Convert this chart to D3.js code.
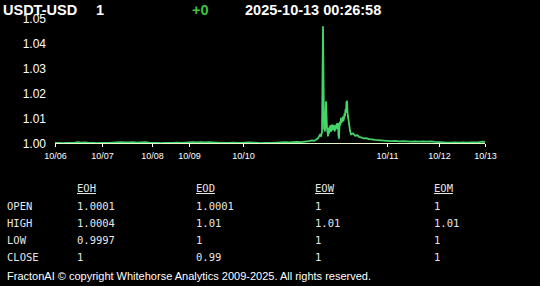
<!DOCTYPE html>
<html>
<head>
<meta charset="utf-8">
<script src="https://cdn.jsdelivr.net/npm/d3@7"></script>
<style>
  body { margin: 0; background: #000; }
  svg { display: block; }
</style>
</head>
<body>
<div id="chart"></div>
<script>
// header
const symbol = "USDT-USD"
const last = "1"
const change = "+0"
const stamp = "2025-10-13 00:26:58"

// price samples: position along the sample axis, and the price there
const samplePos = [
  0, 4, 8, 12, 16, 20, 23, 26, 30, 34, 38, 42, 46, 50, 54, 58, 62, 66, 70, 74,
  78, 82, 86, 90, 94, 98, 102, 106, 110, 114, 118, 122, 126, 130, 134, 138, 142, 146, 150, 154,
  158, 162, 166, 170, 174, 178, 182, 186, 190, 194, 198, 202, 206, 210, 214, 218, 222, 226, 230, 234,
  238, 242, 246, 250, 254, 257, 259, 261, 263, 265, 266, 267, 268, 269, 270, 271, 272,
  273, 273.5, 274, 274.5, 275, 275.5, 276, 276.5, 277, 277.5, 278, 278.5, 279, 279.5, 280, 280.5,
  281, 281.5, 282, 282.5, 283, 283.5, 284, 284.5, 285, 285.5, 286, 286.5, 287, 287.5, 288, 288.5,
  289, 289.5, 290, 290.5, 291, 291.5, 292, 292.5, 293, 293.5, 294, 294.5, 295,
  296, 298, 300, 302, 304, 306, 308, 311, 314, 317, 320, 323, 326, 329, 332, 336, 340, 344, 348, 352,
  356, 360, 364, 368, 372, 376, 380, 384, 388, 392, 396, 400, 404, 408, 412, 416, 420, 424, 428, 430
]
const price = [
  1.0002, 1.0002, 1.0001, 1.0002, 1.0002, 1.0003, 1.0005, 1.0003, 1.0004, 1.0002, 1.0002, 1.0001, 1.0002, 1.0002, 1.0002, 1.0003, 1.0004, 1.0005, 1.0004, 1.0004,
  1.0005, 1.0003, 1.0004, 1.0005, 1.0003, 1.0002, 1.0002, 1.0001, 1.0002, 1.0002, 1.0002, 1.0003, 1.0002, 1.0003, 1.0004, 1.0005, 1.0004, 1.0005, 1.0004, 1.0005,
  1.0004, 1.0003, 1.0002, 1.0002, 1.0002, 1.0003, 1.0002, 1.0002, 1.0003, 1.0004, 1.0003, 1.0002, 1.0001, 1.0002, 1.0002, 1.0002, 1.0003, 1.0004, 1.0005, 1.0004,
  1.0005, 1.0006, 1.0005, 1.0007, 1.0009, 1.0012, 1.0010, 1.0014, 1.0020, 1.0035, 1.0028, 1.0045, 1.0466, 1.0060, 1.0050, 1.0166, 1.0060,
  1.0030, 1.0058, 1.0040, 1.0065, 1.0050, 1.0070, 1.0048, 1.0066, 1.0073, 1.0055, 1.0068, 1.0058, 1.0072, 1.0050, 1.0062, 1.0055,
  1.0072, 1.0065, 1.0078, 1.0060, 1.0079, 1.0030, 1.0020, 1.0070, 1.0085, 1.0075, 1.0100, 1.0085, 1.0095, 1.0088, 1.0105, 1.0092,
  1.0100, 1.0118, 1.0110, 1.0135, 1.0125, 1.0165, 1.0168, 1.0125, 1.0105, 1.0095, 1.0080, 1.0065, 1.0050,
  1.0035, 1.0040, 1.0030, 1.0033, 1.0026, 1.0024, 1.0020, 1.0021, 1.0017, 1.0016, 1.0014, 1.0013, 1.0012, 1.0011, 1.0010, 1.0009, 1.0010, 1.0008, 1.0009, 1.0008,
  1.0007, 1.0008, 1.0007, 1.0008, 1.0007, 1.0008, 1.0006, 1.0005, 1.0004, 1.0003, 1.0003, 1.0004, 1.0003, 1.0004, 1.0003, 1.0004, 1.0004, 1.0005, 1.0007, 1.0006
]

// axis ticks
const yTicks = [1.00, 1.01, 1.02, 1.03, 1.04, 1.05]
const dayLabels = ["10/06", "10/07", "10/08", "10/09", "10/10", "10/11", "10/12", "10/13"]
const dayPos = [0, 47, 97, 134, 188, 332, 384, 430]

// summary table
const periods = ["EOH", "EOD", "EOW", "EOM"]
const rowNames = ["OPEN", "HIGH", "LOW", "CLOSE"]
const eoh = ["1.0001", "1.0004", "0.9997", "1"]
const eod = ["1.0001", "1.01", "1", "0.99"]
const eow = ["1", "1.01", "1", "1"]
const eom = ["1", "1.01", "1", "1"]

const footer = "FractonAI \u00a9 copyright Whitehorse Analytics 2009-2025. All rights reserved."

const svg = d3.select("#chart")
  .append("svg")
    .attr("width", 540)
    .attr("height", 286)
    .style("background", "#000")

const x = d3.scaleLinear().domain([0, 430]).range([55, 485])
const y = d3.scaleLinear().domain([1.00, 1.05]).range([143.3, 18.3])

// y labels (no axis line)
svg.append("g")
  .selectAll("text")
  .data(yTicks)
  .join("text")
    .attr("x", 46)
    .attr("y", d => y(d))
    .attr("dy", "0.36em")
    .attr("text-anchor", "end")
    .style("font", "12px Arial, 'Liberation Sans', sans-serif")
    .style("fill", "#fff")
    .text(d => d.toFixed(2))

// price line
const line = d3.line()
  .x((d, i) => x(samplePos[i]))
  .y(d => y(d))

svg.append("path")
  .datum(price)
  .attr("d", line)
  .style("fill", "none")
  .style("stroke", "#45d46a")
  .style("stroke-width", 1.8)
  .style("stroke-linejoin", "round")

// pale baseline
svg.append("line")
  .attr("x1", x(0)).attr("x2", x(430))
  .attr("y1", 143.5).attr("y2", 143.5)
  .style("stroke", "#e6f5c8")
  .style("stroke-width", 1)

// x axis: day ticks
const xAxis = d3.axisBottom(x)
  .tickValues(dayPos)
  .tickFormat((d, i) => dayLabels[i])
  .tickSize(3)
  .tickPadding(6)

const gx = svg.append("g")
  .attr("transform", "translate(0,144)")
  .call(xAxis)
gx.select(".domain").remove()
gx.selectAll("line").style("stroke", "#fff")
gx.selectAll("text")
  .style("font", "9px Arial, 'Liberation Sans', sans-serif")
  .style("fill", "#fff")

// header
const head = svg.append("g")
  .style("font", "bold 14.5px Arial, 'Liberation Sans', sans-serif")
head.append("text").attr("x", 3).attr("y", 14.5).style("fill", "#fff").text(symbol)
head.append("text").attr("x", 96).attr("y", 14.5).style("fill", "#fff").text(last)
head.append("text").attr("x", 192).attr("y", 14.5).style("fill", "#3cc43c").text(change)
head.append("text").attr("x", 245).attr("y", 14.5).style("fill", "#fff").text(stamp)

// table
const colX = [77, 196, 315, 434]
const rowY = [210, 227, 244, 261]
const cols = [eoh, eod, eow, eom]
const tbl = svg.append("g")
  .style("font", "10.5px 'DejaVu Sans Mono', monospace")
  .style("fill", "#e6e6e6")

tbl.selectAll(".hdr")
  .data(periods)
  .join("text")
    .attr("class", "hdr")
    .attr("x", (d, i) => colX[i])
    .attr("y", 192)
    .style("text-decoration", "underline")
    .text(d => d)

tbl.selectAll(".rname")
  .data(rowNames)
  .join("text")
    .attr("class", "rname")
    .attr("x", 7)
    .attr("y", (d, i) => rowY[i])
    .text(d => d)

cols.forEach((col, c) => {
  tbl.append("g")
    .selectAll("text")
    .data(col)
    .join("text")
      .attr("x", colX[c])
      .attr("y", (d, i) => rowY[i])
      .text(d => d)
})

// footer
svg.append("text")
  .attr("x", 7)
  .attr("y", 280)
  .attr("textLength", 364)
  .attr("lengthAdjust", "spacingAndGlyphs")
  .style("font", "10.5px Arial, 'Liberation Sans', sans-serif")
  .style("fill", "#fff")
  .text(footer)
</script>
</body>
</html>
